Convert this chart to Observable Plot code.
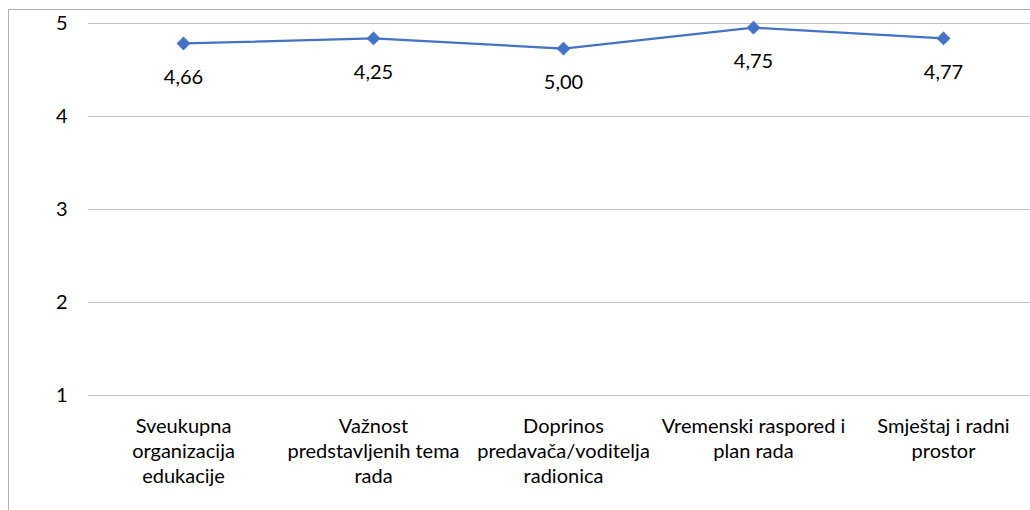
<!DOCTYPE html>
<html>
<head>
<meta charset="utf-8">
<script src="https://cdn.jsdelivr.net/npm/d3@7"></script>
<script src="https://cdn.jsdelivr.net/npm/@observablehq/plot@0.6"></script>
<style>
  html, body { margin: 0; padding: 0; background: #fff; }
  #wrap { position: relative; width: 1030px; height: 510px; overflow: hidden; }
  #frame { position: absolute; left: 8px; top: 9px; width: 1100px; height: 600px; z-index: 10;
           border-left: 1px solid #b0b0b0; border-top: 1px solid #b0b0b0; pointer-events: none; box-sizing: border-box; }
  #chart { position: absolute; left: 0; top: 0; z-index: 1; }
</style>
</head>
<body>
<div id="wrap"><div id="chart"></div><div id="frame"></div></div>
<script>
const categories = [
  "Sveukupna organizacija edukacije",
  "Važnost predstavljenih tema rada",
  "Doprinos predavača/voditelja radionica",
  "Vremenski raspored i plan rada",
  "Smještaj i radni prostor"
];
const categoryLabels = [
  "Sveukupna\norganizacija\nedukacije",
  "Važnost\npredstavljenih tema\nrada",
  "Doprinos\npredavača/voditelja\nradionica",
  "Vremenski raspored i\nplan rada",
  "Smještaj i radni\nprostor"
];
const values = [4.785, 4.84, 4.73, 4.955, 4.84];
const valueLabels = ["4,66", "4,25", "5,00", "4,75", "4,77"];
const yTicks = [1, 2, 3, 4, 5];

const data = categories.map((c, i) => ({cat: c, v: values[i], lab: valueLabels[i], cl: categoryLabels[i]}));
const font = "Lato, 'Open Sans', sans-serif";

const chart = Plot.plot({
  width: 1030,
  height: 510,
  marginLeft: 88,
  marginRight: 0,
  marginTop: 23,
  marginBottom: 115,
  style: {fontFamily: font, fontSize: "20px", color: "#000", background: "transparent", overflow: "visible"},
  x: {type: "band", domain: categories, range: [88, 1038], padding: 0, axis: null},
  y: {domain: [1, 5], ticks: yTicks, axis: null},
  marks: [
    Plot.ruleY(yTicks, {stroke: "#bfbfbf", strokeWidth: 1, strokeOpacity: 1}),
    Plot.ruleX([0], {frameAnchor: "left", y1: 1, y2: 5, stroke: "#bfbfbf", strokeWidth: 1}),
    Plot.axisY({ticks: yTicks, tickFormat: d3.format("d"), tickSize: 0, tickPadding: 21, fontSize: 20, label: null}),
    Plot.text(data, {x: "cat", y: () => 1, text: "cl", lineAnchor: "top", dy: 20, fontSize: 20, lineHeight: 1.25, fill: "#000"}),
    Plot.line(data, {x: "cat", y: "v", stroke: "#4472C4", strokeWidth: 2.25}),
    Plot.dot(data, {x: "cat", y: "v", symbol: "diamond2", r: 6, fill: "#4472C4", stroke: "#4472C4", strokeWidth: 0.5}),
    Plot.text(data, {x: "cat", y: "v", text: "lab", dy: 34, fontSize: 20, fill: "#000"})
  ]
});
document.getElementById("chart").appendChild(chart);
</script>
</body>
</html>
